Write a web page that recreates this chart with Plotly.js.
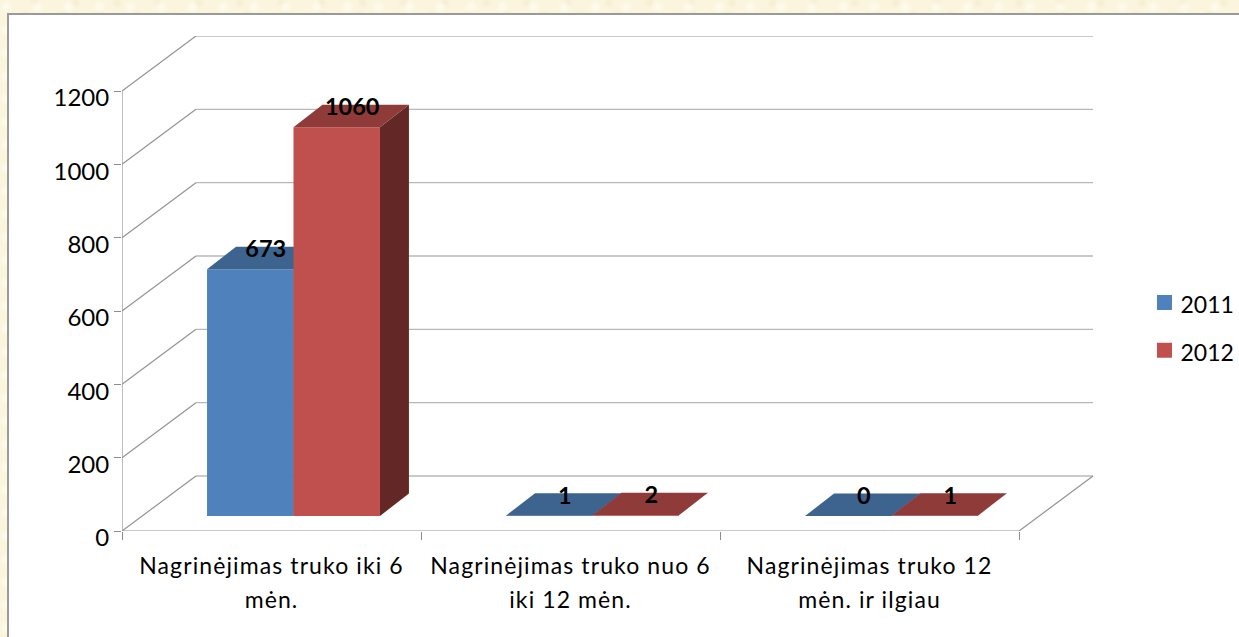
<!DOCTYPE html>
<html>
<head>
<meta charset="utf-8">
<script src="https://cdn.plot.ly/plotly-3.0.1.min.js"></script>
<style>
html,body{margin:0;padding:0;width:1239px;height:637px;overflow:hidden;
 background-color:#FBF5DE;
 background-image:
  radial-gradient(circle at 20% 30%, rgba(255,255,245,.75) 0, rgba(255,255,245,0) 7px),
  radial-gradient(circle at 70% 60%, rgba(240,228,190,.55) 0, rgba(240,228,190,0) 8px),
  radial-gradient(circle at 45% 85%, rgba(255,255,245,.6) 0, rgba(255,255,245,0) 6px),
  radial-gradient(circle at 85% 15%, rgba(240,228,190,.45) 0, rgba(240,228,190,0) 6px);
 background-size:31px 23px,37px 29px,23px 37px,41px 19px;}
#panel{position:absolute;left:7px;top:13px;right:0;bottom:0;background:#fff;
 border-left:2px solid #9A9A9A;border-top:2px solid #9A9A9A;}
#chart{position:absolute;left:0;top:0;width:1239px;height:637px;}
.x2tick text{letter-spacing:1.1px;}
.legendtext{transform:translate(-4px,2px);}
</style>
</head>
<body>
<div id="panel"></div>
<div id="chart"></div>
<script>
var categories = ['Nagrinėjimas truko iki 6<br>mėn.', 'Nagrinėjimas truko nuo 6<br>iki 12 mėn.', 'Nagrinėjimas truko 12<br>mėn. ir ilgiau'];
var seriesNames = ['2011', '2012'];
var values2011 = [673, 1, 0];
var values2012 = [1060, 2, 1];
var valueTicks = [0, 200, 400, 600, 800, 1000, 1200];

var frontColors = ['#4F81BD', '#C0504D'];
var topColors = ['#3D638F', '#8E3B39'];
var sideColors = ['#2F4C6E', '#632826'];

var FONT = 'Lato, Carlito, Calibri, sans-serif';
var L = 121.5, R = 1094, T = 36, B = 531;
var unitX = 299.17, unitY = 440 / 1200;       // px per category, px per value
var wallDX = 74 / unitX, wallDY = 55 / unitY; // depth of the wall in axis units
var barShiftX = 22 / unitX, barBase = 15 / unitY;
var barW = 86.5 / unitX;
var depthX = 29 / unitX, depthY = 22.5 / unitY;
var nCat = categories.length;

var traces = [];

// back wall, side wall, floor lines
var hx = [], hy = [], dx = [], dy = [];
valueTicks.forEach(function (v) {
  hx.push(wallDX, nCat + wallDX, null); hy.push(v + wallDY, v + wallDY, null);
  dx.push(0, wallDX, null); dy.push(v, v + wallDY, null);
});
traces.push({type: 'scatter', mode: 'lines', x: hx, y: hy, hoverinfo: 'skip', showlegend: false,
  line: {color: '#B8B8B8', width: 1.3}, zorder: 0, cliponaxis: false});
dx.push(0, 0, null, 0, nCat, null, nCat, nCat + wallDX);
dy.push(0, valueTicks[valueTicks.length - 1], null, 0, 0, null, 0, wallDY);
traces.push({type: 'scatter', mode: 'lines', x: dx, y: dy, hoverinfo: 'skip', showlegend: false,
  line: {color: '#939393', width: 1.2}, zorder: 0, cliponaxis: false});

[values2011, values2012].forEach(function (vals, s) {
  var z = s + 1;
  var xs = vals.map(function (_, i) { return i + 0.5 + barShiftX; });
  traces.push({type: 'bar', name: seriesNames[s], x: xs, y: vals, base: barBase, width: barW,
    offset: s === 0 ? -barW : 0, marker: {color: frontColors[s], line: {width: 0}},
    showlegend: false, hoverinfo: 'skip', zorder: z});
  vals.forEach(function (v, i) {
    var x0 = xs[i] + (s === 0 ? -barW : 0), x1 = x0 + barW, y1 = barBase + v;
    traces.push({type: 'scatter', mode: 'lines', fill: 'toself', fillcolor: sideColors[s],
      x: [x1, x1 + depthX, x1 + depthX, x1, x1], y: [barBase, barBase + depthY, y1 + depthY, y1, barBase],
      line: {width: 0, color: sideColors[s]}, showlegend: false, hoverinfo: 'skip', zorder: z});
    traces.push({type: 'scatter', mode: 'lines', fill: 'toself', fillcolor: topColors[s],
      x: [x0, x1, x1 + depthX, x0 + depthX, x0], y: [y1, y1, y1 + depthY, y1 + depthY, y1],
      line: {width: 0, color: topColors[s]}, showlegend: false, hoverinfo: 'skip', zorder: z});
  });
  traces.push({type: 'scatter', mode: 'text',
    x: xs.map(function (x) { return x + (s === 0 ? -barW / 2 : barW / 2) + depthX / 2 + 1 / unitX; }),
    y: vals.map(function (v) { return barBase + v + depthY / 2 + 6.5 / unitY; }),
    text: vals.map(String), textposition: 'middle center',
    textfont: {family: FONT, size: 23.5, color: '#000', weight: 700},
    showlegend: false, hoverinfo: 'skip', cliponaxis: false, zorder: 5});
  traces.push({type: 'scatter', mode: 'markers', name: seriesNames[s], x: [null], y: [null],
    legendgroup: seriesNames[s], marker: {symbol: 'square', size: 15, color: frontColors[s]}, showlegend: true});
});

// carrier of the category labels
traces.push({type: 'scatter', mode: 'markers', x: [0.5], y: [0], xaxis: 'x2', opacity: 0,
  showlegend: false, hoverinfo: 'skip'});

var xRange = [0, (R - L) / unitX], yRange = [0, (B - T) / unitY];

var layout = {
  width: 1239, height: 637,
  margin: {l: L, r: 1239 - R, t: T, b: 637 - B, pad: 0, autoexpand: false},
  paper_bgcolor: 'rgba(0,0,0,0)', plot_bgcolor: 'rgba(0,0,0,0)',
  font: {family: FONT, size: 22, color: '#000'},
  barmode: 'overlay',
  xaxis: {type: 'linear', range: xRange, tickmode: 'array', tickvals: [0, 1, 2, 3], ticktext: ['', '', '', ''],
    ticks: 'outside', ticklen: 8, tickwidth: 1, tickcolor: '#8C8C8C',
    showgrid: false, zeroline: false, showline: false, fixedrange: true},
  xaxis2: {type: 'linear', range: xRange, overlaying: 'x', anchor: 'y', side: 'bottom', tickmode: 'array',
    tickvals: categories.map(function (_, i) { return i + 0.5; }), ticktext: categories,
    ticks: '', ticklen: 0, tickangle: 0, ticklabelstandoff: 19, tickfont: {family: FONT, size: 23, color: '#000'},
    showgrid: false, zeroline: false, showline: false, fixedrange: true},
  yaxis: {range: yRange, tickmode: 'array', tickvals: valueTicks, ticktext: valueTicks.map(String),
    ticks: 'outside', ticklen: 7, tickwidth: 1, tickcolor: '#8C8C8C', ticklabelshift: 7, ticklabelstandoff: 0,
    tickfont: {family: FONT, size: 24, color: '#000'},
    showgrid: false, zeroline: false, showline: false, fixedrange: true},
  showlegend: true,
  legend: {x: (1144.5 - L) / (R - L), xanchor: 'left', y: (B - 326.5) / (B - T), yanchor: 'middle',
    bgcolor: 'rgba(0,0,0,0)', borderwidth: 0, tracegroupgap: 15, itemwidth: 30,
    font: {family: FONT, size: 23, color: '#000'}}
};

Plotly.newPlot('chart', traces, layout, {staticPlot: true, displayModeBar: false}).then(function () {
  document.querySelectorAll('.x2tick text tspan.line').forEach(function (t, i) {
    if (parseFloat(t.getAttribute('dy')) > 0) t.setAttribute('dy', '34px');
  });
});
</script>
</body>
</html>
